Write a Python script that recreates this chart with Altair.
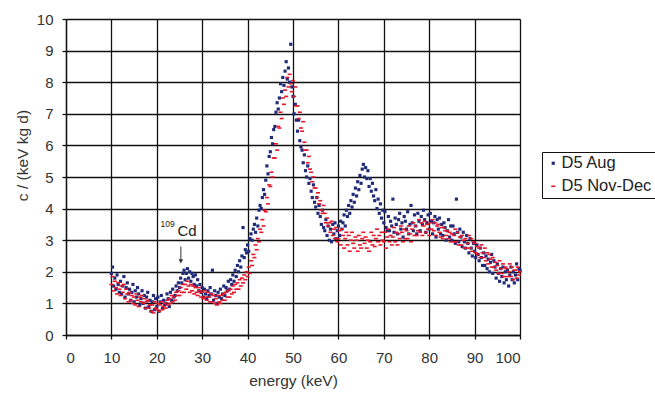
import altair as alt
import pandas as pd

series_names = ["D5 Aug", "D5 Nov-Dec"]
series_colors = ["#1f2a78", "#e5162a"]

# bin centres: 10 keV to 100 keV in 0.25 keV steps
e_start = 10.0
e_step = 0.25

# D5 Aug, 4 bins per keV (10..99) + 100
aug_counts = [
    1.95, 2.15, 1.55, 1.8,   # 10
    1.45, 1.9, 1.6, 1.35,    # 11
    1.7, 1.3, 1.55, 1.85,    # 12
    1.2, 1.5, 1.65, 1.3,     # 13
    1.45, 1.1, 1.35, 1.6,    # 14
    1.05, 1.4, 1.2, 1.5,     # 15
    1.3, 0.95, 1.15, 1.4,    # 16
    1.0, 1.25, 0.85, 1.2,    # 17
    1.35, 0.9, 1.1, 0.75,    # 18
    1.05, 1.25, 0.8, 1.15,   # 19
    0.9, 1.2, 0.75, 1.05,    # 20
    1.25, 0.85, 1.1, 0.95,   # 21
    1.0, 1.3, 1.15, 0.9,     # 22
    1.35, 1.1, 1.45, 1.2,    # 23
    1.25, 1.55, 1.4, 1.65,   # 24
    1.5, 1.8, 1.65, 1.95,    # 25
    2.05, 1.75, 1.95, 2.1,   # 26
    1.8, 2.0, 1.7, 1.95,     # 27
    1.85, 1.6, 1.9, 1.55,    # 28
    1.75, 1.4, 1.6, 1.35,    # 29
    1.5, 1.2, 1.45, 1.3,     # 30
    1.15, 1.4, 1.25, 1.5,    # 31
    1.3, 2.05, 1.1, 1.4,     # 32
    1.25, 1.0, 1.35, 1.2,    # 33
    1.45, 1.15, 1.3, 1.55,   # 34
    1.25, 1.5, 1.4, 1.7,     # 35
    1.45, 1.75, 1.6, 1.9,    # 36
    1.7, 2.05, 1.85, 2.2,    # 37
    2.0, 2.35, 2.15, 2.5,    # 38
    3.4, 2.45, 2.7, 2.6,     # 39
    2.85, 2.65, 3.05, 3.2,   # 40
    3.0, 3.35, 3.5, 3.25,    # 41
    3.7, 3.45, 3.95, 4.1,    # 42
    4.0, 4.35, 4.6, 4.45,    # 43
    4.9, 5.35, 5.1, 5.65,    # 44
    5.8, 6.25, 6.05, 6.5,    # 45
    6.6, 7.05, 7.35, 7.15,   # 46
    7.5, 7.95, 7.7, 8.15,    # 47
    7.9, 8.35, 8.65, 8.1,    # 48
    8.45, 8.0, 9.2, 7.85,    # 49
    7.55, 7.0, 7.3, 6.8,     # 50
    6.45, 6.8, 6.15, 5.95,   # 51
    5.85, 5.45, 5.7, 5.2,    # 52
    5.0, 5.35, 4.8, 4.95,    # 53
    4.55, 4.35, 4.75, 4.2,   # 54
    4.05, 4.35, 3.85, 4.1,   # 55
    3.75, 3.5, 3.95, 3.4,    # 56
    3.3, 3.65, 3.15, 3.45,   # 57
    3.0, 3.35, 2.95, 3.5,    # 58
    3.2, 3.55, 3.05, 3.3,    # 59
    3.45, 3.15, 3.6, 3.35,   # 60
    3.55, 3.8, 3.45, 3.95,   # 61
    3.75, 4.1, 3.85, 4.25,   # 62
    4.05, 4.45, 4.2, 4.65,   # 63
    4.4, 4.85, 4.6, 5.05,    # 64
    4.8, 5.25, 5.4, 5.0,     # 65
    5.3, 4.95, 5.2, 4.7,     # 66
    4.95, 4.55, 4.8, 4.4,    # 67
    4.25, 4.6, 4.0, 4.3,     # 68
    3.85, 4.15, 3.7, 3.95,   # 69
    3.55, 3.9, 3.4, 3.3,     # 70
    3.75, 3.3, 3.6, 3.45,    # 71
    4.3, 3.25, 3.7, 3.5,     # 72
    3.2, 3.65, 3.85, 3.35,   # 73
    3.55, 3.1, 3.75, 3.6,    # 74
    3.35, 3.9, 3.2, 3.5,     # 75
    4.1, 3.55, 3.3, 3.8,     # 76
    3.45, 3.2, 3.85, 3.6,    # 77
    3.3, 3.75, 3.5, 3.95,    # 78
    3.65, 3.25, 3.55, 3.8,   # 79
    3.35, 3.85, 3.6, 3.2,    # 80
    3.55, 3.75, 3.1, 3.65,   # 81
    3.35, 3.7, 3.2, 3.5,     # 82
    3.15, 3.55, 3.4, 3.0,    # 83
    3.3, 3.65, 3.1, 3.45,    # 84
    3.0, 3.45, 3.2, 2.9,     # 85
    4.3, 3.25, 2.95, 3.35,   # 86
    3.1, 2.8, 3.25, 2.95,    # 87
    2.75, 3.15, 2.9, 2.6,    # 88
    3.05, 2.75, 2.5, 2.9,    # 89
    2.65, 2.45, 2.85, 2.55,  # 90
    2.35, 2.75, 2.45, 2.2,   # 91
    2.6, 2.2, 2.5, 2.1,      # 92
    2.4, 2.0, 2.3, 2.55,     # 93
    1.95, 2.35, 2.15, 1.8,   # 94
    2.25, 1.95, 1.7, 2.1,    # 95
    1.85, 2.15, 1.65, 2.0,   # 96
    1.75, 2.05, 1.55, 1.9,   # 97
    2.15, 1.75, 2.0, 1.65,   # 98
    1.9, 2.25, 1.75, 2.1,    # 99
    2.05,                    # 100
]

# D5 Nov-Dec
novdec_counts = [
    1.6, 1.85, 1.4, 1.7,     # 10
    1.5, 1.3, 1.65, 1.45,    # 11
    1.25, 1.55, 1.35, 1.6,   # 12
    1.15, 1.45, 1.3, 1.05,   # 13
    1.35, 1.1, 1.25, 1.0,    # 14
    1.2, 0.95, 1.3, 1.1,     # 15
    0.9, 1.2, 1.05, 1.25,    # 16
    1.0, 1.15, 0.85, 1.05,   # 17
    1.1, 0.85, 0.95, 0.75,   # 18
    0.95, 0.7, 1.05, 0.85,   # 19
    0.8, 1.0, 0.75, 0.95,    # 20
    1.05, 0.8, 0.9, 1.0,     # 21
    0.85, 1.1, 0.95, 1.15,   # 22
    1.0, 1.25, 1.05, 1.2,    # 23
    1.1, 1.35, 1.25, 1.4,    # 24
    1.25, 1.5, 1.35, 1.6,    # 25
    1.35, 1.6, 1.45, 1.7,    # 26
    1.55, 1.35, 1.6, 1.4,    # 27
    1.55, 1.3, 1.5, 1.35,    # 28
    1.25, 1.5, 1.4, 1.2,     # 29
    1.35, 1.15, 1.4, 1.2,    # 30
    1.1, 1.35, 1.2, 1.05,    # 31
    1.3, 1.05, 1.25, 1.0,    # 32
    1.15, 0.95, 1.25, 1.05,  # 33
    1.0, 1.25, 1.1, 1.3,     # 34
    1.1, 1.35, 1.2, 1.4,     # 35
    1.2, 1.45, 1.3, 1.55,    # 36
    1.35, 1.6, 1.45, 1.65,   # 37
    1.45, 1.75, 1.55, 1.8,   # 38
    1.65, 1.9, 1.75, 2.0,    # 39
    1.85, 2.15, 1.95, 2.35,  # 40
    2.2, 2.55, 2.45, 2.85,   # 41
    2.7, 3.05, 2.95, 3.35,   # 42
    3.25, 3.65, 3.45, 3.95,  # 43
    3.9, 4.35, 4.15, 4.75,   # 44
    4.7, 5.15, 5.0, 5.6,     # 45
    5.6, 6.05, 5.85, 6.6,    # 46
    6.55, 7.05, 6.85, 7.5,   # 47
    7.3, 7.75, 7.55, 8.15,   # 48
    7.85, 8.25, 7.95, 7.7,   # 49
    8.05, 7.55, 7.85, 7.25,  # 50
    7.25, 6.85, 7.05, 6.55,  # 51
    6.45, 6.75, 6.1, 5.85,   # 52
    5.85, 5.45, 5.65, 5.25,  # 53
    5.15, 4.85, 5.0, 4.65,   # 54
    4.65, 4.35, 4.5, 4.15,   # 55
    4.25, 3.95, 3.85, 4.1,   # 56
    3.85, 3.55, 3.7, 3.45,   # 57
    3.55, 3.25, 3.6, 3.15,   # 58
    3.35, 3.05, 3.4, 2.95,   # 59
    3.05, 3.3, 2.85, 3.35,   # 60
    3.15, 2.75, 3.05, 3.25,  # 61
    2.85, 3.15, 2.65, 3.0,   # 62
    3.25, 2.9, 2.75, 3.1,    # 63
    3.0, 2.65, 3.15, 2.85,   # 64
    2.75, 3.05, 3.25, 2.9,   # 65
    3.1, 2.75, 3.0, 2.65,    # 66
    2.95, 3.25, 2.85, 3.15,  # 67
    2.8, 3.05, 3.35, 2.95,   # 68
    3.15, 2.85, 3.25, 3.0,   # 69
    2.95, 3.25, 2.75, 3.1,   # 70
    3.35, 2.95, 3.15, 2.85,  # 71
    3.1, 3.4, 2.95, 3.25,    # 72
    2.85, 3.2, 3.05, 3.45,   # 73
    3.25, 2.95, 3.35, 3.05,  # 74
    3.3, 3.05, 3.45, 3.2,    # 75
    2.95, 3.35, 3.55, 3.15,  # 76
    3.45, 3.15, 3.3, 3.65,   # 77
    3.25, 3.55, 3.15, 3.45,  # 78
    3.6, 3.25, 3.5, 3.35,    # 79
    3.15, 3.55, 3.35, 3.65,  # 80
    3.3, 3.55, 3.15, 3.45,   # 81
    3.5, 3.25, 3.1, 3.4,     # 82
    3.05, 3.4, 3.3, 3.15,    # 83
    3.3, 3.05, 3.25, 2.95,   # 84
    3.2, 2.95, 3.15, 3.35,   # 85
    2.95, 3.25, 2.85, 3.1,   # 86
    2.85, 3.15, 3.0, 2.75,   # 87
    3.05, 2.75, 2.9, 3.15,   # 88
    2.75, 3.05, 2.65, 2.95,  # 89
    2.9, 2.6, 2.8, 2.55,     # 90
    2.75, 2.45, 2.85, 2.6,   # 91
    2.45, 2.75, 2.35, 2.6,   # 92
    2.25, 2.55, 2.4, 2.15,   # 93
    2.45, 2.15, 2.3, 2.05,   # 94
    2.2, 1.95, 2.35, 2.1,    # 95
    1.95, 2.25, 1.85, 2.15,  # 96
    2.1, 1.85, 2.0, 2.25,    # 97
    1.85, 2.15, 1.75, 2.05,  # 98
    2.05, 1.8, 2.15, 1.9,    # 99
    2.0,                     # 100
]

# annotation (109Cd line)
cd_label = ["Cd"]
cd_sup = ["109"]

FONT = "Liberation Sans"

rows = []
for k, (name, vals) in enumerate(zip(series_names, [aug_counts, novdec_counts])):
    for i, v in enumerate(vals):
        rows.append({"energy": e_start + e_step * i, "rate": v, "series": name, "order": k})
df = pd.DataFrame(rows)

x_scale = alt.Scale(domain=[0, 100], nice=False, zero=False)
y_scale = alt.Scale(domain=[0, 10], nice=False, zero=False)

x_axis = alt.Axis(
    values=list(range(0, 101, 10)), title="energy (keV)", grid=True,
    gridColor="#111", gridWidth=1.3, domainColor="#111", domainWidth=1.3,
    tickColor="#111", tickSize=4, tickWidth=1.3, labelFont=FONT, labelFontSize=15,
    labelColor="#333", labelPadding=11, titleFont=FONT, titleFontSize=15.5,
    titleFontWeight="normal", titleColor="#333", titlePadding=8,
)
y_axis = alt.Axis(
    values=list(range(0, 11)), tickCount=11, labelOverlap=False, title="c / (keV kg d)", grid=True,
    gridColor="#111", gridWidth=1.3, domainColor="#111", domainWidth=1.3,
    tickColor="#111", tickSize=4, tickWidth=1.3, labelFont=FONT, labelFontSize=15,
    labelColor="#333", labelPadding=9, titleFont=FONT, titleFontSize=15.5,
    titleFontWeight="normal", titleColor="#333", titleX=-44, titleY=136,
    titleAngle=270, titleAlign="center", titleBaseline="middle",
)

legend = alt.Legend(
    orient="none", legendX=476, legendY=133, title=None,
    strokeColor="#111", fillColor="white", padding=3, rowPadding=6,
    labelFont=FONT, labelFontSize=16.5, labelColor="#222", labelOffset=0,
    symbolStrokeWidth=0,
)

points = alt.Chart(df).mark_point(filled=True, opacity=1, strokeWidth=0).encode(
    x=alt.X("energy:Q", scale=x_scale, axis=x_axis),
    y=alt.Y("rate:Q", scale=y_scale, axis=y_axis),
    color=alt.Color("series:N", scale=alt.Scale(domain=series_names, range=series_colors), legend=legend),
    shape=alt.Shape("series:N", scale=alt.Scale(domain=series_names, range=["square", "M-1,-0.4H1V0.4H-1Z"]), legend=legend),
    size=alt.Size("series:N", scale=alt.Scale(domain=series_names, range=[10, 16]), legend=legend),
    order=alt.Order("order:Q"),
)

cd_df = pd.DataFrame({"energy": [26.65], "rate": [3.14], "text": cd_label})
sup_df = pd.DataFrame({"energy": [22.4], "rate": [3.42], "text": cd_sup})
arrow_df = pd.DataFrame({"energy": [25.3], "rate": [2.8], "tip": [2.33]})

cd_text = alt.Chart(cd_df).mark_text(font=FONT, fontSize=15, color="#222", align="center", baseline="alphabetic").encode(
    x=alt.X("energy:Q", scale=x_scale, axis=x_axis), y=alt.Y("rate:Q", scale=y_scale, axis=y_axis), text="text:N")
sup_text = alt.Chart(sup_df).mark_text(font=FONT, fontSize=8.5, color="#222", align="center", baseline="alphabetic").encode(
    x=alt.X("energy:Q", scale=x_scale, axis=x_axis), y=alt.Y("rate:Q", scale=y_scale, axis=y_axis), text="text:N")
arrow_line = alt.Chart(arrow_df).mark_rule(color="#333", strokeWidth=1).encode(
    x=alt.X("energy:Q", scale=x_scale, axis=x_axis), y=alt.Y("rate:Q", scale=y_scale, axis=y_axis), y2="tip:Q")
arrow_head = alt.Chart(arrow_df).mark_point(shape="triangle-down", filled=True, color="#333", size=22, opacity=1).encode(
    x=alt.X("energy:Q", scale=x_scale, axis=x_axis), y=alt.Y("tip:Q", scale=y_scale, axis=y_axis))

chart = alt.layer(points, arrow_line, arrow_head, cd_text, sup_text).properties(
    width=454, height=316,
    padding={"left": 66, "top": 19, "right": 135, "bottom": 60},
    autosize="none",
).configure_view(stroke=None).configure(background="white")

chart.save("out.html", embed_options={"renderer": "svg", "actions": False})
